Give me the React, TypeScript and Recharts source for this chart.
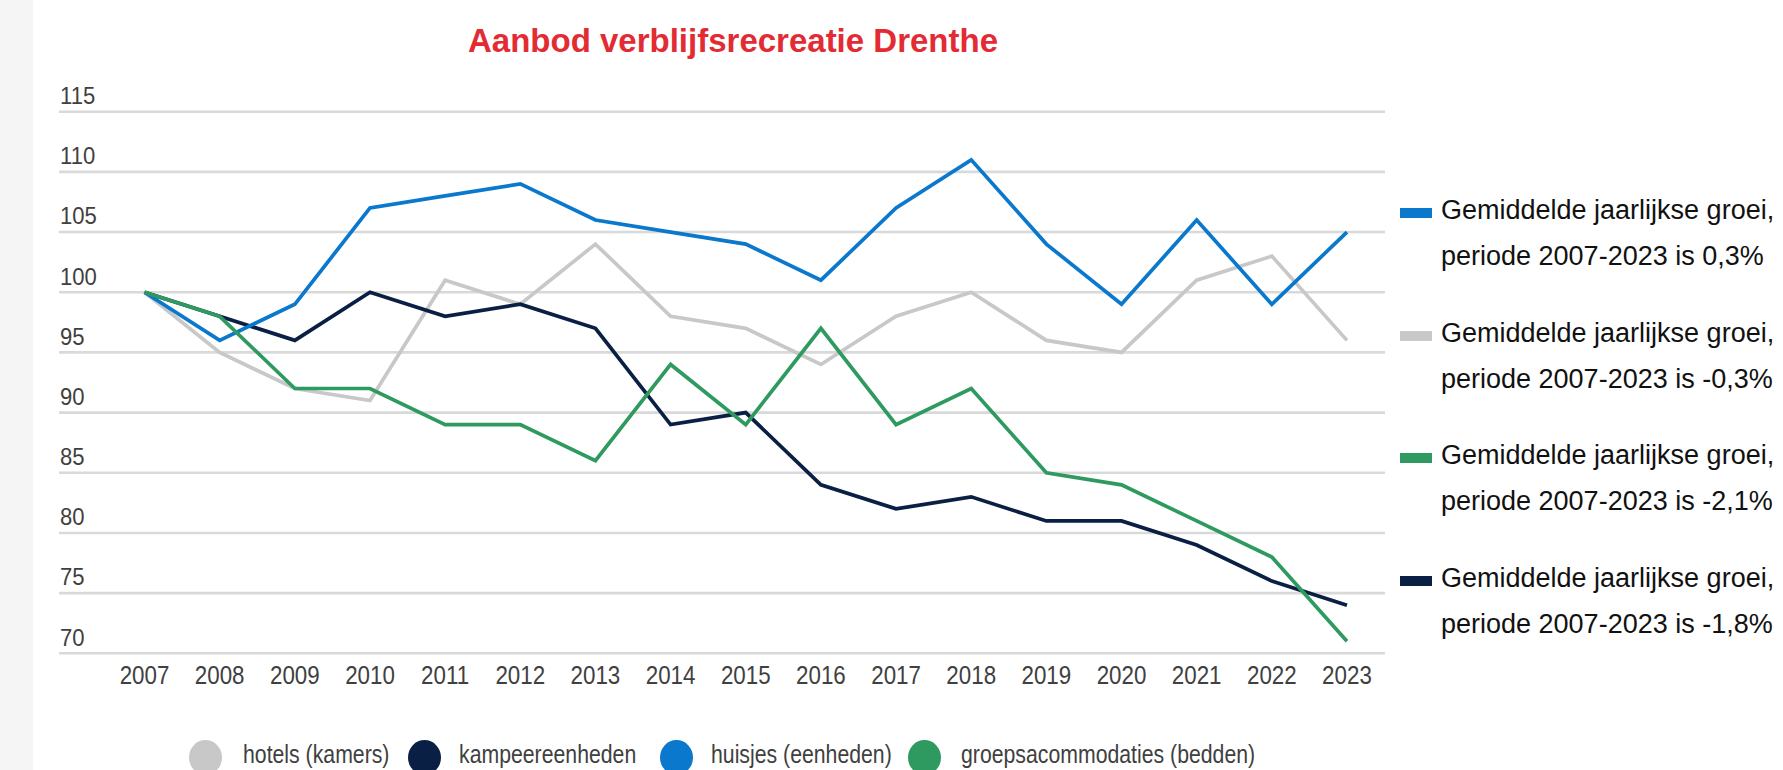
import { LineChart, Line, XAxis, YAxis, CartesianGrid } from "recharts";

// Aanbod verblijfsrecreatie Drenthe, index 2007 = 100
const years = [2007, 2008, 2009, 2010, 2011, 2012, 2013, 2014, 2015, 2016, 2017, 2018, 2019, 2020, 2021, 2022, 2023];
const hotels = [100, 95, 92, 91, 101, 99, 104, 98, 97, 94, 98, 100, 96, 95, 101, 103, 96];
const kampeer = [100, 98, 96, 100, 98, 99, 97, 89, 90, 84, 82, 83, 81, 81, 79, 76, 74];
const huisjes = [100, 96, 99, 107, 108, 109, 106, 105, 104, 101, 107, 111, 104, 99, 106, 99, 105];
const groeps = [100, 98, 92, 92, 89, 89, 86, 94, 89, 97, 89, 92, 85, 84, 81, 78, 71];
const yTicks = [70, 75, 80, 85, 90, 95, 100, 105, 110, 115];

const series = [
  { key: "hotels", name: "hotels (kamers)", color: "#c8c8c8" },
  { key: "kampeer", name: "kampeereenheden", color: "#0a1f44" },
  { key: "huisjes", name: "huisjes (eenheden)", color: "#0a78cc" },
  { key: "groeps", name: "groepsacommodaties (bedden)", color: "#2f9a5f" },
];

// gemiddelde jaarlijkse groei, in the order of the notes on the right
const growthKeys = ["huisjes", "hotels", "groeps", "kampeer"];
const growthValues = ["0,3%", "-0,3%", "-2,1%", "-1,8%"];

const data = years.map((year, i) => ({
  year,
  hotels: hotels[i],
  kampeer: kampeer[i],
  huisjes: huisjes[i],
  groeps: groeps[i],
}));

const SANS = "'Liberation Sans', Arial, sans-serif";

const legendCircleX = [205.5, 424, 676.6, 924.5];
const legendTextX = [242.7, 459, 710.7, 961];

function XTick(props: any) {
  const { x, y, payload } = props;
  return (
    <text
      transform={`translate(${x},${y + 30.7}) scale(0.86,1)`}
      textAnchor="middle"
      fill="#404040"
      fontSize={26}
      fontFamily={SANS}
    >
      {payload.value}
    </text>
  );
}

function YTick(props: any) {
  const { x, y, payload } = props;
  return (
    <text
      transform={`translate(${x + 1},${y - 7.7}) scale(0.92,1)`}
      textAnchor="start"
      fill="#404040"
      fontSize={24}
      fontFamily={SANS}
    >
      {payload.value}
    </text>
  );
}

export default function App() {
  const colorOf = (k: string) => series.find((s) => s.key === k)!.color;
  return (
    <div style={{ position: "absolute", left: 0, top: 0, width: 1783, height: 770, background: "#fff", overflow: "hidden" }}>
      <div style={{ position: "absolute", left: 0, top: 0, width: 33, height: 770, background: "#f5f5f5" }} />
      <div
        style={{
          position: "absolute",
          left: 733,
          top: 24.3,
          transform: "translateX(-50%)",
          whiteSpace: "nowrap",
          fontFamily: SANS,
          fontWeight: 700,
          fontSize: 33,
          lineHeight: "33px",
          color: "#e32b34",
        }}
      >
        Aanbod verblijfsrecreatie Drenthe
      </div>

      <div style={{ position: "absolute", left: 0, top: 0 }}>
        <LineChart width={1783} height={770} data={data} margin={{ top: 111.7, right: 398, bottom: 86.7, left: 58 }}>
          <CartesianGrid vertical={false} stroke="#d9d9d9" strokeWidth={2.6} />
          <XAxis
            dataKey="year"
            type="number"
            domain={[2005.862, 2023.506]}
            ticks={years}
            interval={0}
            height={30}
            axisLine={false}
            tickLine={false}
            tickSize={0}
            tickMargin={0}
            tick={<XTick />}
          />
          <YAxis
            domain={[70, 115]}
            ticks={yTicks}
            interval={0}
            width={1}
            axisLine={false}
            tickLine={false}
            tickSize={0}
            tickMargin={0}
            tick={<YTick />}
          />
          {series.map((s) => (
            <Line
              key={s.key}
              type="linear"
              dataKey={s.key}
              name={s.name}
              stroke={s.color}
              strokeWidth={3.7}
              dot={false}
              activeDot={false}
              isAnimationActive={false}
            />
          ))}
        </LineChart>
      </div>

      {growthKeys.map((k, i) => (
        <div
          key={k}
          style={{
            position: "absolute",
            left: 1400,
            top: 187 + i * 122.7,
            fontFamily: SANS,
            fontSize: 27,
            lineHeight: "46px",
            color: "#111",
            whiteSpace: "nowrap",
          }}
        >
          <div style={{ position: "absolute", left: 0, top: 21, width: 32, height: 10, background: colorOf(k) }} />
          <div style={{ marginLeft: 41 }}>Gemiddelde jaarlijkse groei,</div>
          <div style={{ marginLeft: 41 }}>periode 2007-2023 is {growthValues[i]}</div>
        </div>
      ))}

      {series.map((s, i) => (
        <div key={s.key}>
          <div
            style={{
              position: "absolute",
              left: legendCircleX[i] - 16.5,
              top: 739.5,
              width: 33,
              height: 35,
              borderRadius: "50%",
              background: s.color,
            }}
          />
          <div
            style={{
              position: "absolute",
              left: legendTextX[i],
              top: 739,
              fontFamily: SANS,
              fontSize: 25,
              lineHeight: "30px",
              color: "#404040",
              whiteSpace: "nowrap",
              transform: "scaleX(0.85)",
              transformOrigin: "left center",
            }}
          >
            {s.name}
          </div>
        </div>
      ))}
    </div>
  );
}
